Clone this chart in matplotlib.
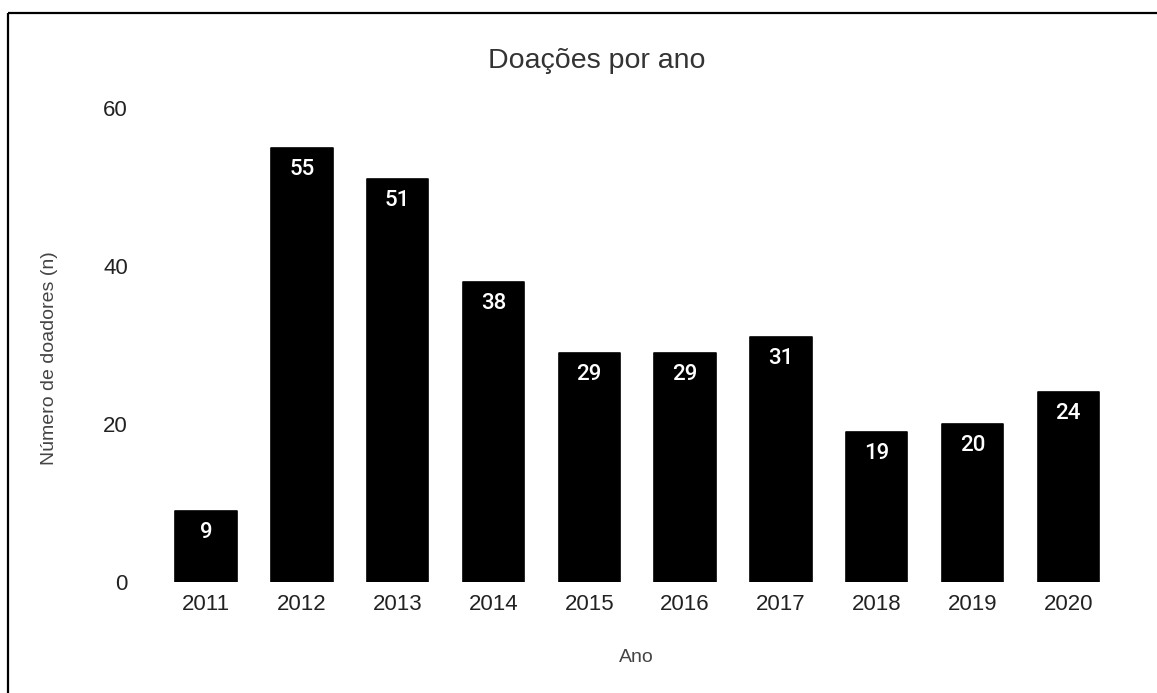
import matplotlib
matplotlib.use("Agg")
import matplotlib.pyplot as plt
from matplotlib.lines import Line2D

# Annual donation counts
years = ["2011", "2012", "2013", "2014", "2015", "2016", "2017", "2018", "2019", "2020"]
donors = [9, 55, 51, 38, 29, 29, 31, 19, 20, 24]
y_ticks = [0, 20, 40, 60]

W, H = 1157, 693
fig = plt.figure(figsize=(W / 100, H / 100), dpi=100)
fig.patch.set_facecolor("white")

# Outer frame (top and left edges visible)
fig.add_artist(Line2D([8 / W, 8 / W], [0, 1 - 12.5 / H], transform=fig.transFigure,
                      color="black", lw=1.6, solid_capstyle="butt"))
fig.add_artist(Line2D([8 / W, 1.0], [1 - 12.5 / H, 1 - 12.5 / H], transform=fig.transFigure,
                      color="black", lw=1.6, solid_capstyle="butt"))

left, right, top, bottom = 150, 1121, 108, 582
ax = fig.add_axes([left / W, 1 - bottom / H, (right - left) / W, (bottom - top) / H])

x = list(range(len(years)))
bars = ax.bar(x, donors, width=0.64, color="black", edgecolor="black",
              linewidth=1.2, joinstyle="round")

for xi, v in zip(x, donors):
    ax.annotate(str(v), xy=(xi, v), xytext=(0, -15.5), textcoords="offset points",
                ha="center", va="center", color="white", fontsize=16,
                fontfamily="Roboto", fontweight="medium")

ax.set_xlim(-0.585, len(years) - 1 + 0.55)
ax.set_ylim(0, 60)
ax.set_xticks(x)
ax.set_xticklabels(years, fontfamily="Liberation Sans", fontsize=16, color="#222222")
ax.set_yticks(y_ticks)
ax.set_yticklabels([str(t) for t in y_ticks], fontfamily="Liberation Sans",
                   fontsize=16, color="#222222")
ax.tick_params(axis="both", length=0)
ax.tick_params(axis="y", pad=16)
ax.tick_params(axis="x", pad=9)
for s in ax.spines.values():
    s.set_visible(False)

fig.text(597 / W, 1 - 61 / H, "Doações por ano", ha="center", va="center",
         fontfamily="Liberation Sans", fontsize=20.5, color="#333333")
fig.text(636 / W, 1 - 657 / H, "Ano", ha="center", va="center",
         fontfamily="Liberation Sans", fontsize=14, color="#444444")
fig.text(50 / W, 1 - 358 / H, "Número de doadores (n)", ha="center", va="center",
         rotation=90, fontfamily="Liberation Sans", fontsize=14, color="#444444")

fig.savefig("out.png", dpi=100, facecolor="white")
